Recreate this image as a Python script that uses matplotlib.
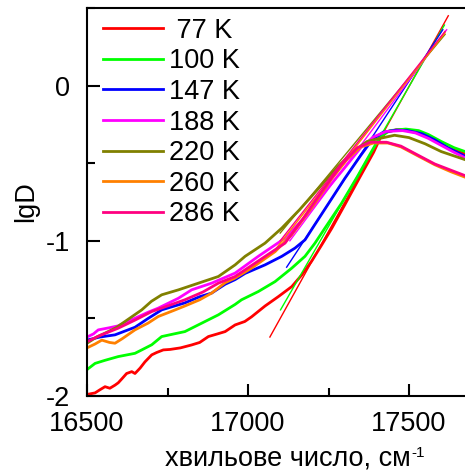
import matplotlib
matplotlib.use("Agg")
import matplotlib.pyplot as plt
from matplotlib.ticker import MultipleLocator

plt.rcParams['font.family'] = ['Liberation Sans', 'DejaVu Sans']
plt.rcParams['axes.unicode_minus'] = False

# spectra, lgD vs wavenumber
wn_77 = [16500, 16525, 16540, 16556, 16571, 16587, 16597, 16608, 16623, 16639, 16649, 16665,
         16680, 16701, 16716, 16737, 16758, 16790, 16825, 16850, 16877, 16905, 16929, 16960,
         16990, 17011, 17053, 17094, 17136, 17167, 17198, 17229, 17260, 17300, 17350, 17390,
         17410, 17430, 17460, 17490, 17520, 17550, 17580, 17620, 17674, 17750]
lgd_77 = [-1.99, -1.98, -1.96, -1.94, -1.95, -1.93, -1.915, -1.89, -1.855, -1.843, -1.855, -1.82,
          -1.78, -1.735, -1.72, -1.703, -1.70, -1.69, -1.671, -1.655, -1.617, -1.60, -1.585, -1.542,
          -1.52, -1.49, -1.42, -1.36, -1.295, -1.22, -1.13, -1.026, -0.92, -0.77, -0.58, -0.43,
          -0.34, -0.30, -0.285, -0.283, -0.295, -0.32, -0.355, -0.40, -0.44, -0.50]

wn_100 = [16500, 16525, 16556, 16597, 16649, 16670, 16701, 16732, 16770, 16804, 16856, 16908,
          16960, 16980, 17032, 17084, 17136, 17177, 17208, 17239, 17290, 17340, 17385, 17410,
          17440, 17490, 17530, 17560, 17600, 17640, 17674, 17750]
lgd_100 = [-1.83, -1.79, -1.77, -1.746, -1.725, -1.703, -1.67, -1.617, -1.60, -1.585, -1.531, -1.477,
           -1.41, -1.38, -1.327, -1.263, -1.176, -1.10, -1.015, -0.918, -0.76, -0.585, -0.42, -0.33,
           -0.29, -0.28, -0.29, -0.315, -0.36, -0.40, -0.425, -0.47]

wn_147 = [16500, 16540, 16587, 16649, 16690, 16732, 16804, 16850, 16887, 16929, 16960, 16991,
          17053, 17105, 17146, 17177, 17203, 17250, 17300, 17350, 17385, 17420, 17460, 17495,
          17540, 17580, 17620, 17674, 17750]
lgd_147 = [-1.64, -1.62, -1.606, -1.557, -1.50, -1.445, -1.40, -1.36, -1.337, -1.28, -1.25, -1.21,
           -1.155, -1.10, -1.047, -0.994, -0.91, -0.76, -0.60, -0.45, -0.35, -0.30, -0.287, -0.29,
           -0.31, -0.35, -0.40, -0.455, -0.51]

wn_188 = [16500, 16520, 16535, 16570, 16597, 16649, 16690, 16721, 16784, 16825, 16887, 16960,
          17032, 17115, 17180, 17240, 17300, 17350, 17390, 17430, 17480, 17520, 17560, 17600,
          17640, 17674, 17750]
lgd_188 = [-1.62, -1.60, -1.574, -1.56, -1.548, -1.499, -1.46, -1.434, -1.37, -1.316, -1.273, -1.208,
           -1.10, -0.983, -0.84, -0.68, -0.53, -0.40, -0.33, -0.295, -0.29, -0.305, -0.34, -0.385,
           -0.43, -0.465, -0.52]

wn_220 = [16500, 16530, 16556, 16590, 16618, 16670, 16700, 16732, 16784, 16846, 16908, 16960,
          16991, 17053, 17105, 17160, 17220, 17280, 17330, 17370, 17410, 17455, 17500, 17550,
          17600, 17674, 17750]
lgd_220 = [-1.66, -1.62, -1.595, -1.56, -1.52, -1.445, -1.39, -1.348, -1.316, -1.273, -1.23, -1.155,
           -1.10, -1.015, -0.918, -0.80, -0.66, -0.52, -0.42, -0.36, -0.34, -0.32, -0.335, -0.375,
           -0.425, -0.477, -0.52]

wn_260 = [16500, 16525, 16546, 16570, 16587, 16610, 16649, 16690, 16721, 16768, 16804, 16850,
          16887, 16929, 16960, 17011, 17084, 17136, 17200, 17260, 17310, 17350, 17390, 17435,
          17475, 17525, 17580, 17630, 17674, 17750]
lgd_260 = [-1.69, -1.665, -1.64, -1.655, -1.66, -1.63, -1.574, -1.53, -1.488, -1.45, -1.42, -1.38,
           -1.337, -1.27, -1.24, -1.176, -1.07, -0.96, -0.78, -0.60, -0.47, -0.395, -0.37, -0.37,
           -0.395, -0.45, -0.51, -0.555, -0.59, -0.64]

wn_286 = [16500, 16540, 16597, 16650, 16701, 16750, 16804, 16860, 16908, 16960, 17032, 17115,
          17170, 17230, 17290, 17340, 17380, 17430, 17475, 17525, 17580, 17630, 17674, 17750]
lgd_286 = [-1.65, -1.61, -1.563, -1.51, -1.456, -1.42, -1.38, -1.33, -1.273, -1.23, -1.13, -1.015,
           -0.86, -0.68, -0.51, -0.40, -0.365, -0.365, -0.39, -0.445, -0.505, -0.545, -0.58, -0.63]

# straight-line fits of the absorption edge (end points)
fit_77 = ([17068, 17622], [-1.62, 0.45])
fit_100 = ([17101, 17610], [-1.445, 0.39])
fit_147 = ([17120, 17605], [-1.17, 0.36])
fit_188 = ([17130, 17617], [-1.0, 0.36])
fit_220 = ([17100, 17612], [-0.95, 0.33])
fit_260 = ([17089, 17612], [-1.045, 0.34])
fit_286 = ([17100, 17612], [-1.0, 0.35])

labels = [" 77 K", "100 K", "147 K", "188 K", "220 K", "260 K", "286 K"]
colors = ["#ff0000", "#00ff00", "#0000ff", "#ff00ff", "#808000", "#ff8000", "#ff0080"]

curves = [(wn_77, lgd_77), (wn_100, lgd_100), (wn_147, lgd_147), (wn_188, lgd_188),
          (wn_220, lgd_220), (wn_260, lgd_260), (wn_286, lgd_286)]
fits = [fit_77, fit_100, fit_147, fit_188, fit_220, fit_260, fit_286]

FS = 19.5

fig = plt.figure(figsize=(4.65, 4.73), dpi=100)
# axes runs past the right edge of the picture, like the cropped original
ax = fig.add_axes([87 / 465, 77 / 473, 402.5 / 465, 388 / 473])

for (x, y), (fx, fy), lab, col in zip(curves, fits, labels, colors):
    ax.plot(x, y, color=col, lw=2.0, label=lab)
    ax.plot(fx, fy, color=col, lw=1.0)

ax.set_xlim(16500, 17750)
ax.set_ylim(-2, 0.5)
ax.xaxis.set_major_locator(MultipleLocator(500))
ax.xaxis.set_minor_locator(MultipleLocator(250))
ax.yaxis.set_major_locator(MultipleLocator(1))
ax.yaxis.set_minor_locator(MultipleLocator(0.5))
ax.tick_params(which='both', direction='in', width=1.5, labelsize=FS)
ax.tick_params(which='major', length=9)
ax.tick_params(which='minor', length=5.5)
ax.tick_params(axis='x', pad=11)
ax.tick_params(axis='y', pad=12)
for sp in ax.spines.values():
    sp.set_linewidth(1.5)

xlab = ax.set_xlabel("хвильове число, см", fontsize=FS, labelpad=6)
# superscript -1 with a plain hyphen, tied to the end of the x label
ax.annotate("-1", xy=(1, 1), xycoords=xlab, xytext=(0.5, 0), textcoords='offset points',
            fontsize=11, ha='left', va='top')
ax.set_ylabel("lgD", fontsize=FS, labelpad=5)

ax.legend(loc='upper left', bbox_to_anchor=(0.04, 0.975), frameon=False, fontsize=FS,
          handlelength=2.2, handletextpad=0.25, labelspacing=0.17, borderpad=0, borderaxespad=0)

fig.savefig("out.png", dpi=100)
